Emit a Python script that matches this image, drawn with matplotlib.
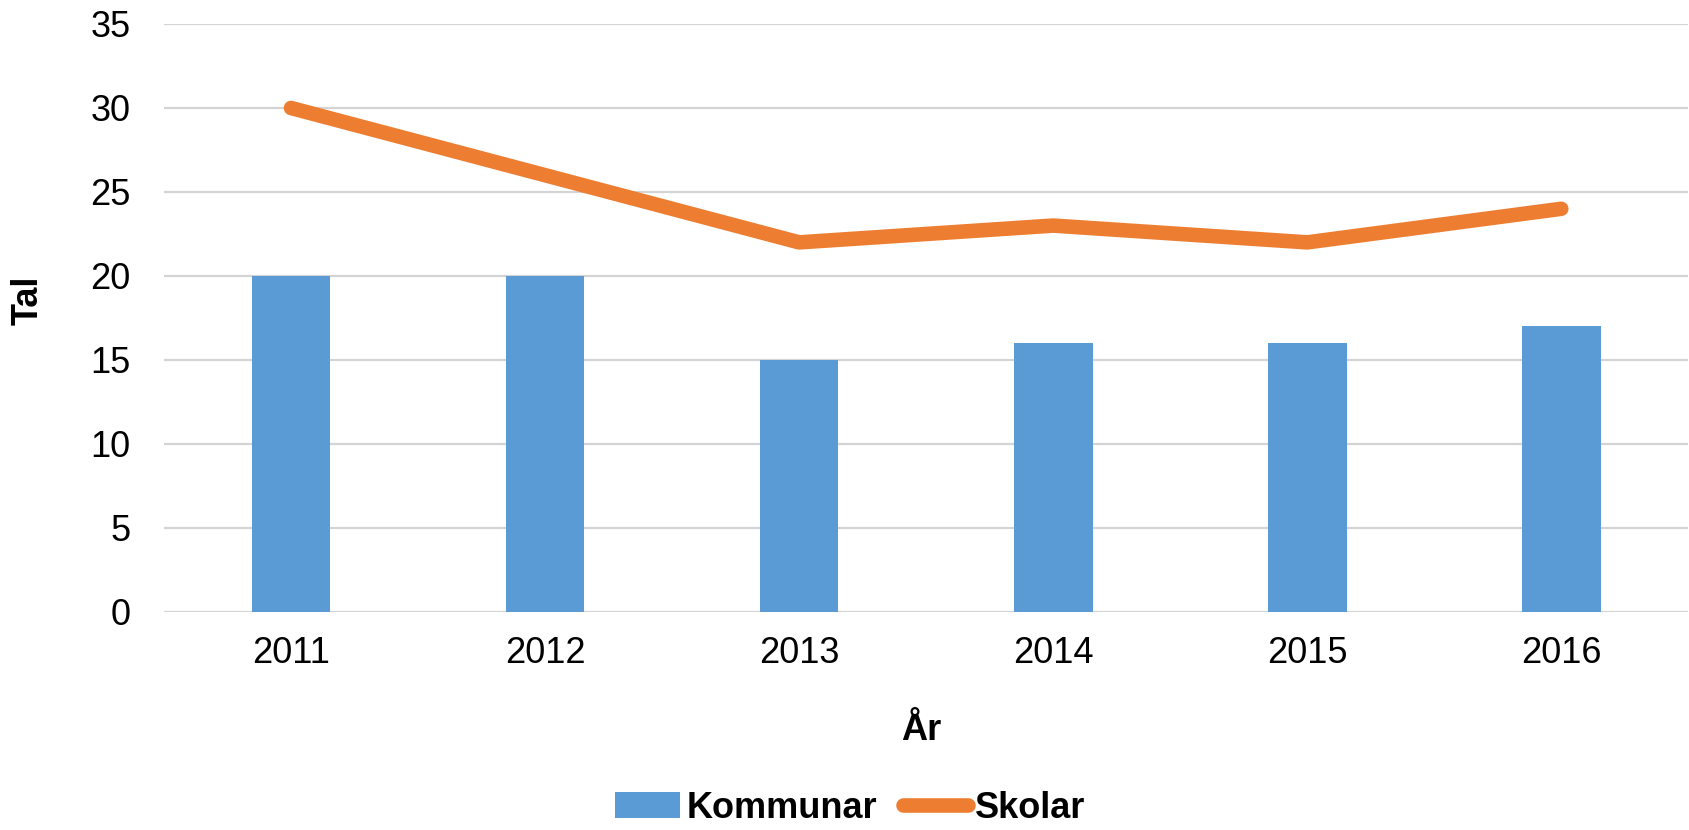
import matplotlib.pyplot as plt
import numpy as np

plt.rcParams['font.family'] = ['Liberation Sans', 'DejaVu Sans']

years = ['2011', '2012', '2013', '2014', '2015', '2016']
kommunar = [20, 20, 15, 16, 16, 17]
skolar = [30, 26, 22, 23, 22, 24]

fig = plt.figure(figsize=(16.9, 8.3), dpi=100)
ax = fig.add_axes([0.097, 0.2627, 0.902, 0.7084])

x = np.arange(len(years))
bars = ax.bar(x, kommunar, width=0.31, color='#5B9BD5', label='Kommunar', zorder=2)
line, = ax.plot(x, skolar, color='#ED7D31', linewidth=10.5, solid_capstyle='round',
                solid_joinstyle='round', label='Skolar', zorder=3)

ax.set_xlim(-0.5, len(years) - 0.5)
ax.set_ylim(0, 35)
ax.set_yticks(range(0, 36, 5))
ax.set_xticks(x)
ax.set_xticklabels(years)
ax.yaxis.grid(True, color='#D4D4D4', linewidth=1.6, zorder=0)
ax.set_axisbelow(True)
for s in ax.spines.values():
    s.set_visible(False)
ax.tick_params(axis='both', length=0, labelsize=26, colors='#000000')
ax.tick_params(axis='y', pad=24)
ax.tick_params(axis='x', pad=17)

fig.text(0.0166, 0.638, 'Tal', rotation=90, ha='center', va='center',
         fontsize=26, fontweight='bold')
fig.text(0.545, 0.12, 'År', ha='center', va='center',
         fontsize=26, fontweight='bold')

fig.legend([bars, line], ['Kommunar', 'Skolar'], loc='center',
           bbox_to_anchor=(0.503, 0.0265), ncol=2, frameon=False,
           prop={'size': 26, 'weight': 'bold'}, handlelength=1.8,
           handletextpad=0.2, columnspacing=0.7, borderaxespad=0)

fig.savefig('out.png', dpi=100)
